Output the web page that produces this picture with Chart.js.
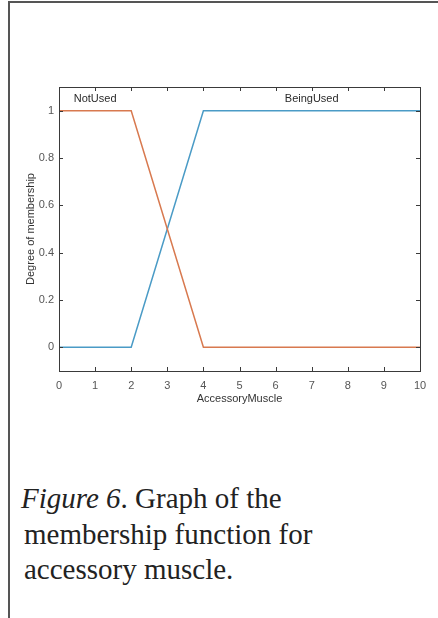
<!DOCTYPE html>
<html>
<head>
<meta charset="utf-8">
<script src="https://cdn.jsdelivr.net/npm/chart.js@4.4.1/dist/chart.umd.min.js"></script>
<style>
  body { margin: 0; width: 438px; height: 618px; background: #fff; position: relative; overflow: hidden; }
  #frame { position: absolute; left: 8px; top: 1px; right: -10px; bottom: -10px; border-left: 2px solid #555; border-top: 2px solid #555; }
  #chart { position: absolute; left: 0; top: 0; }
  #caption { position: absolute; left: 21px; top: 481px; font-family: "Liberation Serif", "Times New Roman", serif; font-size: 29px; line-height: 35.5px; color: #222; }
  #caption div.in { padding-left: 3px; }
</style>
</head>
<body>
<div id="frame"></div>
<canvas id="chart" width="438" height="420"></canvas>
<div id="caption">
  <div><i>Figure 6</i>. Graph of the</div>
  <div class="in">membership function for</div>
  <div class="in">accessory muscle.</div>
</div>
<script>
// membership functions (breakpoints on the x axis)
const xValues = [0, 2, 4, 10];
const notUsed = [1, 1, 0, 0];
const beingUsed = [0, 0, 1, 1];

const xTicks = [0, 1, 2, 3, 4, 5, 6, 7, 8, 9, 10];
const yTicks = [0, 0.2, 0.4, 0.6, 0.8, 1];

const mfNames = ['NotUsed', 'BeingUsed'];
const mfCenters = [1, 7];

const fontFamily = '"Liberation Sans", Arial, Helvetica, sans-serif';

function toPoints(ys) {
    return xValues.map((x, i) => ({ x: x, y: ys[i] }));
}

// matlab style box with inward ticks, plus the mf names
const boxPlugin = {
    id: 'box',
    afterDatasetsDraw(chart) {
        const { ctx, chartArea: a, scales: { x, y } } = chart;
        ctx.save();
        ctx.strokeStyle = '#3a3a3a';
        ctx.lineWidth = 1;
        ctx.strokeRect(Math.round(a.left) + 0.5, Math.round(a.top) + 0.5,
            Math.round(a.right - a.left), Math.round(a.bottom - a.top));
        ctx.beginPath();
        x.ticks.forEach(t => {
            const px = Math.round(x.getPixelForValue(t.value)) + 0.5;
            ctx.moveTo(px, a.bottom); ctx.lineTo(px, a.bottom - 4);
            ctx.moveTo(px, a.top); ctx.lineTo(px, a.top + 4);
        });
        y.ticks.forEach(t => {
            const py = Math.round(y.getPixelForValue(t.value)) + 0.5;
            ctx.moveTo(a.left, py); ctx.lineTo(a.left + 4, py);
            ctx.moveTo(a.right, py); ctx.lineTo(a.right - 4, py);
        });
        ctx.stroke();

        ctx.fillStyle = '#2a2a2a';
        ctx.font = '11px ' + fontFamily;
        ctx.textAlign = 'center';
        ctx.textBaseline = 'middle';
        mfNames.forEach((name, i) => {
            ctx.fillText(name, x.getPixelForValue(mfCenters[i]), y.getPixelForValue(1.05));
        });
        ctx.restore();
    }
};

new Chart(document.getElementById('chart'), {
    type: 'scatter',
    data: {
        datasets: [
            {
                label: 'NotUsed',
                data: toPoints(notUsed),
                showLine: true,
                borderColor: '#d8794f',
                borderWidth: 1.5,
                pointRadius: 0
            },
            {
                label: 'BeingUsed',
                data: toPoints(beingUsed),
                showLine: true,
                borderColor: '#4a9bc6',
                borderWidth: 1.5,
                pointRadius: 0
            }
        ]
    },
    options: {
        responsive: false,
        animation: false,
        layout: { padding: { top: 87, right: 18, left: 0, bottom: 0 } },
        plugins: {
            legend: { display: false },
            tooltip: { enabled: false }
        },
        scales: {
            x: {
                type: 'linear',
                min: 0,
                max: 10,
                afterBuildTicks: s => { s.ticks = xTicks.map(v => ({ value: v })); },
                afterFit: s => { s.height = 49; },
                grid: { display: false, drawTicks: false },
                border: { display: false },
                ticks: {
                    color: '#555',
                    font: { size: 11, family: fontFamily },
                    padding: 8,
                    maxRotation: 0,
                    autoSkip: false
                },
                title: {
                    display: true,
                    text: 'AccessoryMuscle',
                    color: '#333',
                    font: { size: 11, family: fontFamily },
                    padding: 14
                }
            },
            y: {
                type: 'linear',
                min: -0.1,
                max: 1.1,
                afterBuildTicks: s => { s.ticks = yTicks.map(v => ({ value: v })); },
                afterFit: s => { s.width = 59; },
                grid: { display: false, drawTicks: false },
                border: { display: false },
                ticks: {
                    color: '#555',
                    font: { size: 11, family: fontFamily },
                    padding: 5,
                    callback: v => String(v)
                },
                title: {
                    display: true,
                    text: 'Degree of membership',
                    color: '#333',
                    font: { size: 11, family: fontFamily },
                    padding: 24
                }
            }
        }
    },
    plugins: [boxPlugin]
});
</script>
</body>
</html>
